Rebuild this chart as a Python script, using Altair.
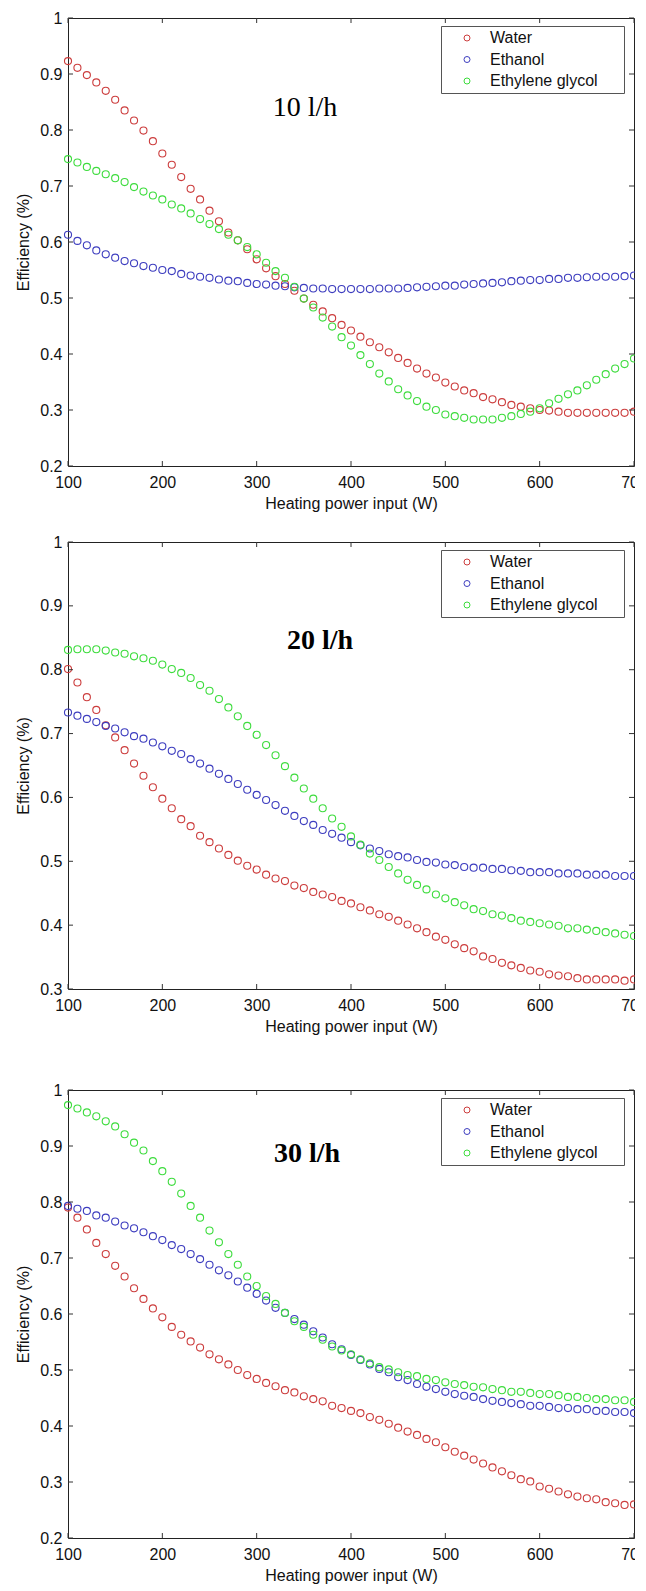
import altair as alt
import pandas as pd

# ---------------- data ----------------
power = [100, 110, 120, 130, 140, 150, 160, 170, 180, 190,
         200, 210, 220, 230, 240, 250, 260, 270, 280, 290,
         300, 310, 320, 330, 340, 350, 360, 370, 380, 390,
         400, 410, 420, 430, 440, 450, 460, 470, 480, 490,
         500, 510, 520, 530, 540, 550, 560, 570, 580, 590,
         600, 610, 620, 630, 640, 650, 660, 670, 680, 690, 700]

fluids = ["Water", "Ethanol", "Ethylene glycol"]
colors = ["#cc3d3d", "#3d3dbf", "#3ddc3d"]

# 10 l/h
water_10 = [0.923, 0.911, 0.898, 0.885, 0.870, 0.854, 0.835, 0.817, 0.799, 0.780,
            0.758, 0.738, 0.716, 0.695, 0.676, 0.656, 0.637, 0.617, 0.603, 0.587,
            0.569, 0.553, 0.539, 0.525, 0.513, 0.499, 0.488, 0.476, 0.464, 0.452,
            0.442, 0.431, 0.421, 0.412, 0.403, 0.393, 0.384, 0.374, 0.365, 0.358,
            0.349, 0.342, 0.335, 0.330, 0.323, 0.319, 0.314, 0.309, 0.306, 0.303,
            0.300, 0.299, 0.297, 0.295, 0.295, 0.295, 0.295, 0.295, 0.295, 0.295, 0.297]
ethanol_10 = [0.613, 0.602, 0.594, 0.585, 0.578, 0.572, 0.566, 0.562, 0.557, 0.554,
              0.550, 0.548, 0.543, 0.540, 0.538, 0.536, 0.533, 0.531, 0.530, 0.527,
              0.525, 0.524, 0.522, 0.521, 0.519, 0.518, 0.517, 0.517, 0.516, 0.516,
              0.516, 0.516, 0.516, 0.517, 0.517, 0.517, 0.518, 0.519, 0.520, 0.521,
              0.522, 0.522, 0.524, 0.525, 0.526, 0.527, 0.528, 0.530, 0.531, 0.532,
              0.532, 0.534, 0.534, 0.536, 0.536, 0.537, 0.538, 0.538, 0.538, 0.539, 0.540]
glycol_10 = [0.748, 0.742, 0.734, 0.727, 0.721, 0.714, 0.707, 0.698, 0.690, 0.683,
             0.676, 0.667, 0.660, 0.651, 0.641, 0.632, 0.623, 0.613, 0.603, 0.591,
             0.578, 0.563, 0.548, 0.536, 0.520, 0.499, 0.483, 0.465, 0.449, 0.430,
             0.415, 0.398, 0.382, 0.365, 0.351, 0.337, 0.326, 0.316, 0.306, 0.300,
             0.292, 0.289, 0.286, 0.283, 0.283, 0.283, 0.286, 0.289, 0.293, 0.297,
             0.303, 0.312, 0.320, 0.328, 0.335, 0.344, 0.354, 0.364, 0.374, 0.382, 0.392]

# 20 l/h
water_20 = [0.801, 0.780, 0.757, 0.737, 0.713, 0.694, 0.674, 0.653, 0.634, 0.616,
            0.598, 0.583, 0.566, 0.555, 0.540, 0.530, 0.520, 0.510, 0.501, 0.493,
            0.487, 0.479, 0.473, 0.469, 0.462, 0.458, 0.452, 0.448, 0.444, 0.438,
            0.434, 0.428, 0.423, 0.417, 0.413, 0.407, 0.401, 0.395, 0.389, 0.382,
            0.377, 0.370, 0.364, 0.359, 0.351, 0.347, 0.341, 0.337, 0.333, 0.329,
            0.327, 0.323, 0.321, 0.320, 0.317, 0.315, 0.315, 0.315, 0.315, 0.313, 0.315]
ethanol_20 = [0.733, 0.728, 0.723, 0.718, 0.712, 0.708, 0.702, 0.696, 0.692, 0.686,
              0.680, 0.673, 0.668, 0.660, 0.653, 0.645, 0.637, 0.629, 0.621, 0.612,
              0.604, 0.596, 0.588, 0.579, 0.571, 0.563, 0.557, 0.549, 0.543, 0.537,
              0.530, 0.525, 0.520, 0.516, 0.511, 0.508, 0.506, 0.502, 0.499, 0.498,
              0.495, 0.494, 0.491, 0.490, 0.490, 0.488, 0.488, 0.486, 0.485, 0.483,
              0.483, 0.483, 0.481, 0.481, 0.481, 0.479, 0.479, 0.479, 0.477, 0.477, 0.477]
glycol_20 = [0.831, 0.832, 0.832, 0.832, 0.830, 0.827, 0.825, 0.821, 0.818, 0.814,
             0.808, 0.801, 0.795, 0.787, 0.776, 0.767, 0.754, 0.741, 0.727, 0.712,
             0.698, 0.682, 0.666, 0.649, 0.631, 0.614, 0.598, 0.583, 0.567, 0.554,
             0.539, 0.526, 0.512, 0.502, 0.491, 0.481, 0.471, 0.463, 0.456, 0.448,
             0.442, 0.436, 0.431, 0.425, 0.422, 0.417, 0.415, 0.411, 0.407, 0.405,
             0.403, 0.401, 0.399, 0.395, 0.395, 0.393, 0.391, 0.389, 0.387, 0.385, 0.383]

# 30 l/h
water_30 = [0.790, 0.772, 0.751, 0.727, 0.707, 0.686, 0.667, 0.646, 0.627, 0.610,
            0.594, 0.577, 0.563, 0.551, 0.540, 0.528, 0.519, 0.510, 0.500, 0.491,
            0.484, 0.477, 0.471, 0.464, 0.460, 0.453, 0.448, 0.444, 0.436, 0.432,
            0.427, 0.423, 0.416, 0.411, 0.404, 0.397, 0.390, 0.384, 0.377, 0.371,
            0.362, 0.354, 0.347, 0.340, 0.333, 0.326, 0.319, 0.312, 0.305, 0.301,
            0.292, 0.288, 0.283, 0.278, 0.274, 0.271, 0.269, 0.264, 0.262, 0.259, 0.260]
ethanol_30 = [0.793, 0.788, 0.784, 0.776, 0.772, 0.765, 0.758, 0.753, 0.746, 0.739,
              0.732, 0.723, 0.716, 0.707, 0.698, 0.688, 0.678, 0.669, 0.658, 0.647,
              0.636, 0.624, 0.611, 0.602, 0.591, 0.581, 0.569, 0.558, 0.546, 0.537,
              0.527, 0.518, 0.510, 0.502, 0.496, 0.487, 0.482, 0.475, 0.470, 0.466,
              0.461, 0.457, 0.454, 0.452, 0.448, 0.445, 0.443, 0.441, 0.439, 0.436,
              0.436, 0.434, 0.432, 0.432, 0.430, 0.430, 0.427, 0.427, 0.425, 0.425, 0.423]
glycol_30 = [0.973, 0.967, 0.960, 0.953, 0.944, 0.935, 0.921, 0.906, 0.892, 0.873,
             0.855, 0.836, 0.815, 0.793, 0.772, 0.749, 0.728, 0.707, 0.688, 0.667,
             0.650, 0.632, 0.618, 0.602, 0.587, 0.577, 0.563, 0.554, 0.542, 0.535,
             0.528, 0.519, 0.512, 0.505, 0.501, 0.496, 0.491, 0.489, 0.484, 0.482,
             0.478, 0.475, 0.473, 0.470, 0.469, 0.466, 0.464, 0.461, 0.461, 0.459,
             0.457, 0.457, 0.455, 0.452, 0.452, 0.450, 0.448, 0.448, 0.446, 0.446, 0.443]

x_ticks = [100, 200, 300, 400, 500, 600, 700]
y_ticks_a = [0.2, 0.3, 0.4, 0.5, 0.6, 0.7, 0.8, 0.9, 1.0]
y_ticks_b = [0.3, 0.4, 0.5, 0.6, 0.7, 0.8, 0.9, 1.0]

W = 566
TICK = 5
AXIS_COLOR = "#333333"
# non-breaking spaces closed by a zero-width space so they are not trimmed:
# they widen the legend box the way the reference's box is wider than its text
PAD_TXT = "\u00a0" * 5 + "\u200b"


def panel(label, bold, series, ymin, yticks, height, text_x, text_y, extra_top=0):
    rows = []
    for name, vals in zip(fluids, series):
        for p, v in zip(power, vals):
            rows.append({"power": p, "eff": v, "fluid": name})
    df = pd.DataFrame(rows)

    xscale = alt.Scale(domain=[100, 700], nice=False, zero=False)
    yscale = alt.Scale(domain=[ymin, 1.0], nice=False, zero=False)
    xaxis = alt.Axis(title="Heating power input (W)", values=x_ticks,
                     labelFlush=False, labelPadding=8, titlePadding=5,
                     grid=False, ticks=False, domain=False)
    yaxis = alt.Axis(title="Efficiency (%)", values=yticks, format="~g",
                     labelPadding=6, titlePadding=8,
                     grid=False, ticks=False, domain=False)

    def xenc():
        return alt.X("power:Q", scale=xscale, axis=xaxis)

    def yenc():
        return alt.Y("eff:Q", scale=yscale, axis=yaxis)

    points = alt.Chart(df).mark_point(
        shape="circle", filled=False, size=50, strokeWidth=1.1, opacity=1
    ).encode(
        x=xenc(),
        y=yenc(),
        color=alt.Color("fluid:N", sort=fluids,
                        scale=alt.Scale(domain=fluids, range=colors),
                        legend=alt.Legend(
                            title=None, orient="none", legendX=373, legendY=8,
                            direction="vertical", fillColor="white",
                            strokeColor="#555555", padding=4,
                            symbolType="circle", symbolSize=36,
                            symbolStrokeWidth=1, symbolFillColor="white",
                            symbolOffset=14, labelOffset=15, rowPadding=5.5,
                            labelFont="Liberation Sans", labelFontSize=16,
                            labelColor="#111111",
                            labelExpr="datum.label + '" + PAD_TXT + "'")),
    )

    xt = pd.DataFrame({"power": x_ticks})
    yt = pd.DataFrame({"eff": yticks})
    bottom = alt.Chart(xt).mark_rule(color=AXIS_COLOR).encode(
        x=xenc(), y=alt.value(height), y2=alt.value(height - TICK))
    top = alt.Chart(xt).mark_rule(color=AXIS_COLOR).encode(
        x=xenc(), y=alt.value(0), y2=alt.value(TICK))
    left = alt.Chart(yt).mark_rule(color=AXIS_COLOR).encode(
        y=yenc(), x=alt.value(0), x2=alt.value(TICK))
    right = alt.Chart(yt).mark_rule(color=AXIS_COLOR).encode(
        y=yenc(), x=alt.value(W), x2=alt.value(W - TICK))

    txt = alt.Chart(pd.DataFrame({"t": [label]})).mark_text(
        font="Liberation Serif", fontSize=28,
        fontWeight="bold" if bold else "normal", color="black",
        align="center", baseline="middle"
    ).encode(text="t:N", x=alt.value(text_x), y=alt.value(text_y))

    layers = [points, bottom, top, left, right, txt]
    if extra_top:
        spacer = alt.Chart(pd.DataFrame({"s": [0]})).mark_rule(
            strokeOpacity=0, color="white"
        ).encode(x=alt.value(0), y=alt.value(-extra_top), y2=alt.value(0))
        layers.append(spacer)

    return alt.layer(*layers).properties(width=W, height=height)


p1 = panel("10 l/h", False, [water_10, ethanol_10, glycol_10], 0.2, y_ticks_a, 448, 237, 90)
p2 = panel("20 l/h", True, [water_20, ethanol_20, glycol_20], 0.3, y_ticks_b, 447, 252, 99)
p3 = panel("30 l/h", True, [water_30, ethanol_30, glycol_30], 0.2, y_ticks_a, 448, 239, 64,
           extra_top=33)

chart = alt.vconcat(p1, p2, p3, spacing=21).resolve_scale(
    x="independent", y="independent", color="independent"
).resolve_legend(color="independent").properties(
    padding={"left": 7, "top": 1, "right": -13, "bottom": 0},
    background="white"
).configure_view(
    stroke="#222222", strokeWidth=1
).configure_axis(
    domain=False, ticks=False, grid=False,
    labelFont="Liberation Sans", labelFontSize=16, labelColor="#111111",
    titleFont="Liberation Sans", titleFontSize=16, titleFontWeight="normal",
    titleColor="#111111"
)

chart.save("out.html", embed_options={"renderer": "svg", "actions": False})
